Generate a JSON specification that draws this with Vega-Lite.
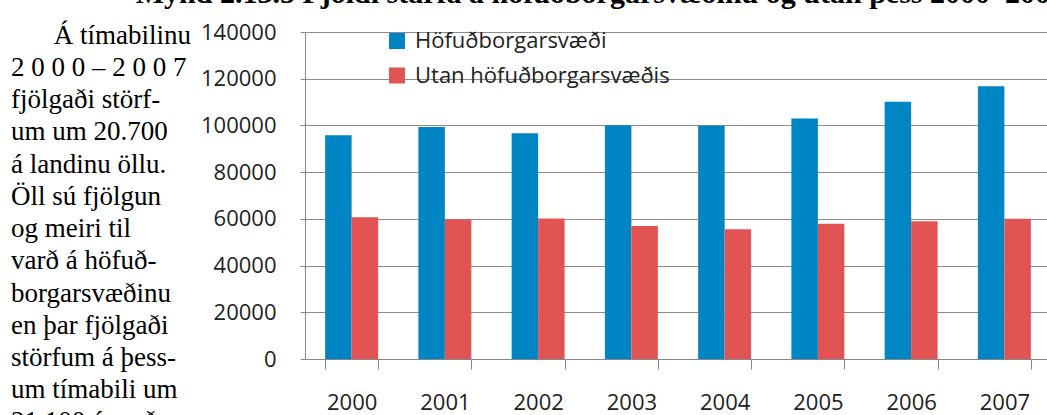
{
  "$schema": "https://vega.github.io/schema/vega-lite/v6.json",
  "padding": {"left": 11, "top": -21, "right": 0, "bottom": 0},
  "background": "white",
  "title": {"text": "Mynd 2.13.5 Fjöldi starfa á höfuðborgarsvæðinu og utan þess 2000–2007", "font": "Liberation Serif", "fontSize": 30, "fontWeight": "bold", "anchor": "end", "color": "#000000", "offset": 12, "dx": 14},
  "spacing": 9,
  "config": {"view": {"stroke": null}},
  "hconcat": [
    {
      "width": 180,
      "height": 392,
      "data": {"values": [
        {"line": 0, "text": "Á tímabilinu"},
        {"line": 1, "text": "2 0 0 0 – 2 0 0 7"},
        {"line": 2, "text": "fjölgaði  störf-"},
        {"line": 3, "text": "um um 20.700"},
        {"line": 4, "text": "á landinu öllu."},
        {"line": 5, "text": "Öll sú fjölgun"},
        {"line": 6, "text": "og   meiri   til"},
        {"line": 7, "text": "varð á höfuð-"},
        {"line": 8, "text": "borgarsvæðinu"},
        {"line": 9, "text": "en þar fjölgaði"},
        {"line": 10, "text": "störfum á þess-"},
        {"line": 11, "text": "um tímabili um"},
        {"line": 12, "text": "21.100 á með"}
      ]},
      "layer": [
        {
          "transform": [{"filter": "datum.line > 0"}],
          "mark": {"type": "text", "align": "left", "baseline": "alphabetic", "font": "Liberation Serif", "fontSize": 27, "color": "#000000", "clip": true},
          "encoding": {
            "x": {"value": 0},
            "y": {"field": "line", "type": "quantitative", "scale": {"domain": [-0.36, 11.8], "reverse": true}, "axis": null},
            "text": {"field": "text"}
          }
        },
        {
          "transform": [{"filter": "datum.line == 0"}],
          "mark": {"type": "text", "align": "right", "baseline": "alphabetic", "font": "Liberation Serif", "fontSize": 27, "color": "#000000"},
          "encoding": {
            "x": {"value": "width"},
            "y": {"field": "line", "type": "quantitative", "scale": {"domain": [-0.36, 11.8], "reverse": true}, "axis": null},
            "text": {"field": "text"}
          }
        }
      ]
    },
    {
      "width": 746,
      "height": 327,
      "data": {"values": [
        {"year": "2000", "series": "Höfuðborgarsvæði", "value": 95800},
        {"year": "2001", "series": "Höfuðborgarsvæði", "value": 99300},
        {"year": "2002", "series": "Höfuðborgarsvæði", "value": 96700},
        {"year": "2003", "series": "Höfuðborgarsvæði", "value": 100100},
        {"year": "2004", "series": "Höfuðborgarsvæði", "value": 99900},
        {"year": "2005", "series": "Höfuðborgarsvæði", "value": 103000},
        {"year": "2006", "series": "Höfuðborgarsvæði", "value": 110100},
        {"year": "2007", "series": "Höfuðborgarsvæði", "value": 116800},
        {"year": "2000", "series": "Utan höfuðborgarsvæðis", "value": 60700},
        {"year": "2001", "series": "Utan höfuðborgarsvæðis", "value": 59800},
        {"year": "2002", "series": "Utan höfuðborgarsvæðis", "value": 60200},
        {"year": "2003", "series": "Utan höfuðborgarsvæðis", "value": 56900},
        {"year": "2004", "series": "Utan höfuðborgarsvæðis", "value": 55600},
        {"year": "2005", "series": "Utan höfuðborgarsvæðis", "value": 57900},
        {"year": "2006", "series": "Utan höfuðborgarsvæðis", "value": 59000},
        {"year": "2007", "series": "Utan höfuðborgarsvæðis", "value": 60000}
      ]},
      "mark": {"type": "bar"},
      "encoding": {
        "x": {
          "field": "year", "type": "ordinal",
          "scale": {"paddingInner": 0.432, "paddingOuter": 0.216},
          "axis": {"title": null, "labelAngle": 0, "labelFont": "Open Sans", "labelFontSize": 22, "labelColor": "#222222", "tickBand": "extent", "tickSize": 10, "tickColor": "#868686", "domainColor": "#868686", "labelPadding": 23, "grid": false}
        },
        "xOffset": {"field": "series", "type": "nominal", "sort": ["Höfuðborgarsvæði", "Utan höfuðborgarsvæðis"]},
        "y": {
          "field": "value", "type": "quantitative",
          "scale": {"domain": [0, 140000]},
          "axis": {"title": null, "values": [0, 20000, 40000, 60000, 80000, 100000, 120000, 140000], "format": "d", "labelFont": "Open Sans", "labelFontSize": 22, "labelColor": "#222222", "tickSize": 5, "tickColor": "#868686", "domainColor": "#868686", "gridColor": "#8c8c8c", "labelPadding": 24, "minExtent": 105, "maxExtent": 105}
        },
        "color": {
          "field": "series", "type": "nominal",
          "scale": {"domain": ["Höfuðborgarsvæði", "Utan höfuðborgarsvæðis"], "range": ["#0085c4", "#e25454"]},
          "legend": {"orient": "none", "legendX": 375, "legendY": -2, "title": null, "symbolType": "square", "symbolSize": 256, "symbolStrokeWidth": 0, "labelFont": "Open Sans", "labelFontSize": 22, "labelColor": "#222222", "labelOffset": 7, "rowPadding": 12.5, "padding": 0, "labelLimit": 400}
        }
      }
    }
  ]
}
